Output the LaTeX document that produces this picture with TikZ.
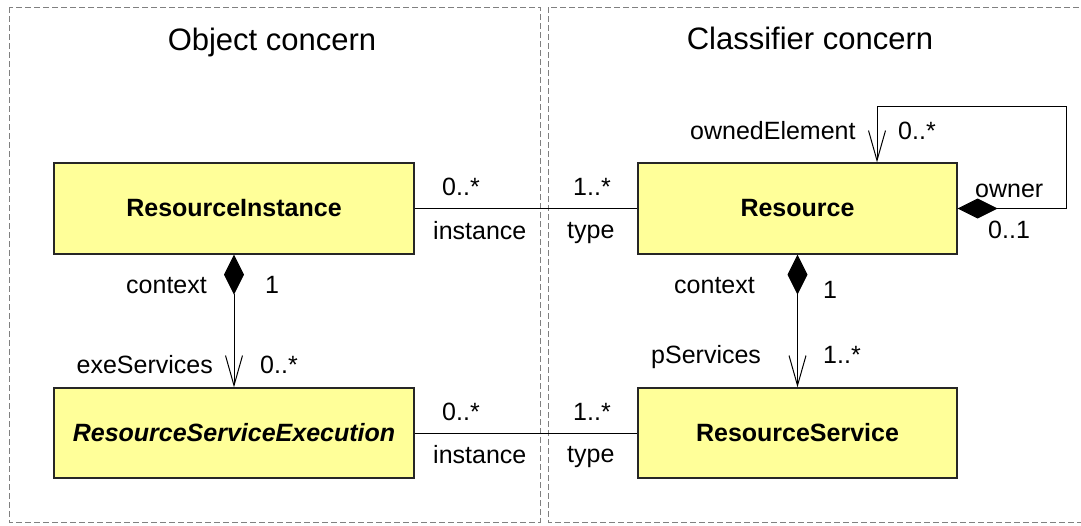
\documentclass[tikz,border=0pt]{standalone}
\usepackage{fontspec}
\setmainfont{Liberation Sans}
\usetikzlibrary{arrows.meta}
\definecolor{boxyellow}{RGB}{255,255,153}
\definecolor{framegray}{RGB}{128,128,128}
\begin{document}
\begin{tikzpicture}[x=1pt,y=-1pt,
  frame/.style={draw=framegray, line width=1pt, dash pattern=on 6pt off 3pt},
  title/.style={inner sep=0, anchor=base, font=\fontsize{31}{36}\selectfont},
  box/.style={draw=black!85, line width=1.3pt, fill=boxyellow, inner sep=0, font=\fontsize{25}{30}\selectfont\bfseries},
  lbl/.style={inner sep=0, anchor=base west, font=\fontsize{25}{30}\selectfont},
  lblr/.style={lbl, anchor=base east},
  conn/.style={line width=1pt, draw=black},
  comp/.style={conn, {Diamond[length=40pt,width=20pt]}-{Straight Barb[length=30pt,width=17pt]}}
]
\useasboundingbox (0,0) rectangle (1081,525);
\clip (0,0) rectangle (1081,525);
\fill[white] (0,0) rectangle (1081,525);
% frames
\draw[frame] (9,7) rectangle (540,522);
\draw[frame] (548,7) rectangle (1095,522);
\node[title] (t1) at (272,50) {Object concern};
\node[title] (t2) at (810,49) {Classifier concern};
% boxes
\node[box, minimum width=360pt, minimum height=91pt] (RI) at (234,208.5) {ResourceInstance};
\node[box, minimum width=360pt, minimum height=90pt] (RSE) at (234,433) {\bfseries\itshape ResourceServiceExecution};
\node[box, minimum width=319pt, minimum height=91pt] (R) at (797.5,208.5) {Resource};
\node[box, minimum width=319pt, minimum height=90pt] (RS) at (797.5,433) {ResourceService};
% connectors
\draw[conn] (RI) -- (R);
\draw[conn] (RSE) -- (RS);
\draw[comp] (RI.south) -- (RSE.north);
\draw[comp] (R.south) -- (RS.north);
\coordinate (c1) at (1066,208.5);
\coordinate (c2) at (1066,106);
\coordinate (c3) at (877,106);
\draw[comp] (R.east) -- (c1) -- (c2) -- (c3) -- (c3 |- R.north);
% labels top association
\node[lbl] (m1) at (442,195) {0..*};
\node[lbl] (m2) at (573,195) {1..*};
\node[lbl] (r1) at (433,239) {instance};
\node[lbl] (r2) at (567,238) {type};
% labels bottom association
\node[lbl] (m3) at (442,420) {0..*};
\node[lbl] (m4) at (573,420) {1..*};
\node[lbl] (r3) at (433,463) {instance};
\node[lbl] (r4) at (567,462) {type};
% left composition
\node[lbl] (r5) at (126,293) {context};
\node[lbl] (m5) at (265,293) {1};
\node[lblr] (r6) at (213,373) {exeServices};
\node[lbl] (m6) at (260,373) {0..*};
% right composition
\node[lbl] (r7) at (674,293) {context};
\node[lbl] (m7) at (823,298) {1};
\node[lbl] (r8) at (651,363) {pServices};
\node[lbl] (m8) at (823,363) {1..*};
% self association
\node[lbl] (r9) at (690,139) {ownedElement};
\node[lbl] (m9) at (898,139) {0..*};
\node[lbl] (r10) at (975,197) {owner};
\node[lbl] (m10) at (988,238) {0..1};
\end{tikzpicture}
\end{document}
